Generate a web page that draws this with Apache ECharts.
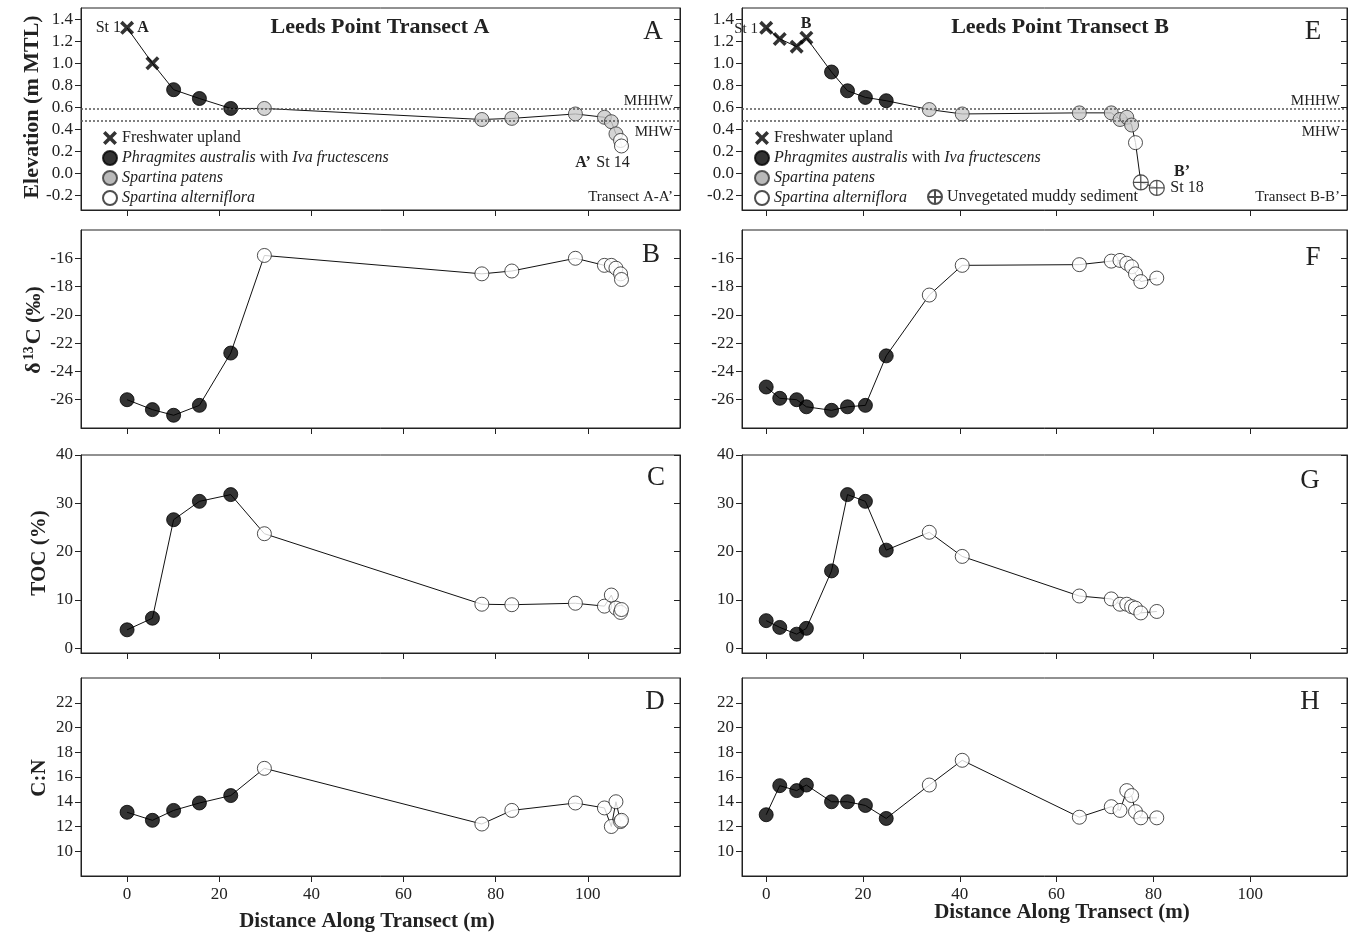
<!DOCTYPE html>
<html><head><meta charset="utf-8">
<script src="https://cdn.jsdelivr.net/npm/echarts@6/dist/echarts.min.js"></script>
<style>html,body{margin:0;padding:0;background:#fff}#c{width:1350px;height:935px}</style>
</head><body><div id="c"></div>
<script>
// ---------- DATA ----------
// Transect A (14 stations)
const distA  = [0, 5.5, 10.1, 15.7, 22.5, 29.8, 77.0, 83.5, 97.3, 103.6, 105.1, 106.1, 107.1, 107.3];
const elevA  = [1.32, 1.00, 0.76, 0.68, 0.59, 0.59, 0.49, 0.50, 0.54, 0.51, 0.47, 0.36, 0.30, 0.25];
const d13cA  = [-26.0, -26.7, -27.1, -26.4, -22.7, -15.8, -17.1, -16.9, -16.0, -16.5, -16.5, -16.7, -17.1, -17.5];
const tocA   = [3.8, 6.2, 26.6, 30.4, 31.8, 23.7, 9.1, 9.0, 9.3, 8.7, 11.0, 8.3, 7.4, 8.0];
const cnA    = [13.15, 12.5, 13.3, 13.9, 14.5, 16.7, 12.2, 13.3, 13.9, 13.5, 12.0, 14.0, 12.4, 12.5];
const vegA   = ['x','x','p','p','p','s','s','s','s','s','s','s','a','a'];
const zoneA  = ['k','k','k','k','k','w','w','w','w','w','w','w','w','w'];
// Transect B (18 stations)
const distB  = [0, 2.8, 6.3, 8.3, 13.5, 16.8, 20.5, 24.8, 33.7, 40.5, 64.7, 71.3, 73.1, 74.5, 75.5, 76.3, 77.4, 80.7];
const elevB  = [1.32, 1.22, 1.15, 1.23, 0.92, 0.75, 0.69, 0.66, 0.58, 0.54, 0.55, 0.55, 0.49, 0.51, 0.44, 0.28, -0.08, -0.13];
const d13cB  = [-25.1, -25.9, -26.0, -26.5, -26.75, -26.5, -26.4, -22.9, -18.6, -16.5, -16.45, -16.2, -16.15, -16.35, -16.6, -17.1, -17.65, -17.4];
const tocB   = [5.7, 4.3, 2.9, 4.1, 16.0, 31.8, 30.4, 20.3, 24.0, 19.0, 10.8, 10.2, 9.1, 9.1, 8.6, 8.3, 7.3, 7.6];
const cnB    = [12.95, 15.3, 14.9, 15.35, 14.0, 14.0, 13.7, 12.65, 15.35, 17.35, 12.75, 13.6, 13.3, 14.9, 14.5, 13.2, 12.7, 12.7];
const vegB   = ['x','x','x','x','p','p','p','p','s','s','s','s','s','s','s','a','m','m'];
const zoneB  = ['k','k','k','k','k','k','k','k','w','w','w','w','w','w','w','w','w','w'];
// Tidal datums (m MTL)
const mhhw = 0.59;
const mhw  = 0.48;
// Tick values
const distTicks = [0, 20, 40, 60, 80, 100];
const elevTicks = [-0.2, 0, 0.2, 0.4, 0.6, 0.8, 1.0, 1.2, 1.4];
const d13cTicks = [-26, -24, -22, -20, -18, -16];
const tocTicks  = [0, 10, 20, 30, 40];
const cnTicks   = [10, 12, 14, 16, 18, 20, 22];
// Names
const classNames = {
  x: 'Freshwater upland',
  p: 'Phragmites australis with Iva fructescens',
  s: 'Spartina patens',
  a: 'Spartina alterniflora',
  m: 'Unvegetated muddy sediment',
  k: 'Upland / Phragmites zone',
  w: 'Spartina zone'
};

// ---------- STYLE ----------
const SERIF = '"Liberation Serif", "DejaVu Serif", serif';
const XPATH = 'path://M3.6,0L10,6.4L16.4,0L20,3.6L13.6,10L20,16.4L16.4,20L10,13.6L3.6,20L0,16.4L6.4,10L0,3.6Z';
const MPATH = 'path://M10,0A10,10,0,1,1,10,20A10,10,0,1,1,10,0ZM10,0L10,20M0,10L20,10';
const SYM = {
  x: {symbol: XPATH, size: 14, item: {color: '#000'}},
  p: {symbol: 'circle', size: 14, item: {color: '#000', borderColor: '#000', borderWidth: 1}},
  s: {symbol: 'circle', size: 14, item: {color: '#c9c9c9', borderColor: '#333', borderWidth: 1}},
  a: {symbol: 'circle', size: 14, item: {color: '#fff', borderColor: '#222', borderWidth: 1}},
  m: {symbol: MPATH, size: 15, item: {color: '#fff', borderColor: '#222', borderWidth: 1.2}},
  k: {symbol: 'circle', size: 14, item: {color: '#000', borderColor: '#000', borderWidth: 1}},
  w: {symbol: 'circle', size: 14, item: {color: '#fff', borderColor: '#222', borderWidth: 1}}
};
const cols = [{left: 81, width: 599, xmin: -10}, {left: 742, width: 605, xmin: -5}];
const rows = [{top: 8, height: 202}, {top: 230, height: 198}, {top: 455, height: 198}, {top: 678, height: 198}];
const YAX = {
  elev: {min: -0.33, max: 1.5, ticks: elevTicks, fmt: v => Number(v).toFixed(1)},
  d13c: {min: -28, max: -14, ticks: d13cTicks, fmt: v => String(v)},
  toc:  {min: -1, max: 40, ticks: tocTicks, fmt: v => String(v)},
  cn:   {min: 8, max: 24, ticks: cnTicks, fmt: v => String(v)}
};
const panels = [
  {col: 0, row: 0, dist: distA, vals: elevA, cls: vegA, y: 'elev', datum: true},
  {col: 0, row: 1, dist: distA, vals: d13cA, cls: zoneA, y: 'd13c'},
  {col: 0, row: 2, dist: distA, vals: tocA,  cls: zoneA, y: 'toc'},
  {col: 0, row: 3, dist: distA, vals: cnA,   cls: zoneA, y: 'cn'},
  {col: 1, row: 0, dist: distB, vals: elevB, cls: vegB, y: 'elev', datum: true},
  {col: 1, row: 1, dist: distB, vals: d13cB, cls: zoneB, y: 'd13c'},
  {col: 1, row: 2, dist: distB, vals: tocB,  cls: zoneB, y: 'toc'},
  {col: 1, row: 3, dist: distB, vals: cnB,   cls: zoneB, y: 'cn'}
];

const grid = [], xAxis = [], yAxis = [], series = [];
const axLine = {show: true, onZero: false, lineStyle: {color: '#222', width: 1}};
panels.forEach((p, gi) => {
  const c = cols[p.col], r = rows[p.row], ya = YAX[p.y];
  grid.push({left: c.left, width: c.width, top: r.top, height: r.height, show: true,
    borderColor: '#222', borderWidth: 1, containLabel: false});
  xAxis.push({type: 'value', gridIndex: gi, min: c.xmin, max: 120,
    axisLine: axLine, splitLine: {show: false},
    axisTick: {show: true, inside: false, length: 6, customValues: distTicks, lineStyle: {color: '#222'}},
    axisLabel: {show: p.row === 3, customValues: distTicks, fontFamily: SERIF, fontSize: 17, color: '#222', margin: 10}
  });
  yAxis.push({type: 'value', gridIndex: gi, min: ya.min, max: ya.max, position: 'left',
    axisLine: axLine, splitLine: {show: false},
    axisTick: {show: true, inside: false, length: 6, customValues: ya.ticks, lineStyle: {color: '#222'}},
    axisLabel: {show: true, customValues: ya.ticks, formatter: ya.fmt, fontFamily: SERIF, fontSize: 17, color: '#222', margin: 8}
  });
  yAxis.push({type: 'value', gridIndex: gi, min: ya.min, max: ya.max, position: 'right',
    axisLine: axLine, splitLine: {show: false},
    axisTick: {show: true, inside: true, length: 6, customValues: ya.ticks, lineStyle: {color: '#222'}},
    axisLabel: {show: false}
  });
  const line = {type: 'line', xAxisIndex: gi, yAxisIndex: 2 * gi, symbol: 'none', silent: true, z: 2,
    lineStyle: {color: '#111', width: 1},
    data: p.dist.map((d, k) => [d, p.vals[k]])};
  if (p.datum) {
    line.markLine = {silent: true, symbol: ['none', 'none'],
      lineStyle: {type: [2, 2], color: '#555', width: 1.5},
      label: {fontFamily: SERIF, fontSize: 15, color: '#222'},
      data: [
        {yAxis: mhhw, label: {formatter: 'MHHW', position: 'insideEndTop', distance: [7, 0]}},
        {yAxis: mhw, label: {formatter: 'MHW', position: 'insideEndBottom', distance: [7, 4]}}
      ]};
  }
  series.push(line);
  const keys = [...new Set(p.cls)];
  keys.forEach(key => {
    const s = SYM[key];
    series.push({type: 'scatter', name: classNames[key], xAxisIndex: gi, yAxisIndex: 2 * gi, z: 3,
      symbol: s.symbol, symbolSize: s.size, itemStyle: s.item, silent: true,
      data: p.dist.map((d, k) => [d, p.vals[k], p.cls[k]]).filter(v => v[2] === key).map(v => [v[0], v[1]])});
  });
});

function legendFmt(name) {
  if (name === classNames.p) return '{i|Phragmites australis} with {i|Iva fructescens}';
  if (name === classNames.s || name === classNames.a) return '{i|' + name + '}';
  return name;
}
const legTxt = {fontFamily: SERIF, fontSize: 16, color: '#222', lineHeight: 16,
  rich: {i: {fontFamily: SERIF, fontSize: 16, fontStyle: 'italic', color: '#222'}}};
const legBase = {orient: 'vertical', itemGap: 4, itemWidth: 14, itemHeight: 14, selectedMode: false,
  textStyle: legTxt, formatter: legendFmt, padding: 0};
const legData = [
  {name: classNames.x, itemStyle: {color: '#000'}},
  {name: classNames.p},
  {name: classNames.s, itemStyle: {color: '#a8a8a8'}},
  {name: classNames.a}
];
const legend = [
  Object.assign({}, legBase, {left: 102, top: 130, data: legData}),
  Object.assign({}, legBase, {left: 754, top: 130, data: legData}),
  Object.assign({}, legBase, {left: 927, top: 189, data: [classNames.m]})
];

function T(x, y, text, font, align, extra) {
  return Object.assign({type: 'text', x: x, y: y, silent: true,
    style: {text: text, font: font, fill: '#222', align: align || 'center', verticalAlign: 'middle'}}, extra || {});
}
const F = s => s + 'px ' + SERIF;
const graphic = [
  T(380, 27, 'Leeds Point Transect A', 'bold ' + F(22)),
  T(1060, 27, 'Leeds Point Transect B', 'bold ' + F(22)),
  T(121, 28, 'St 1', F(16), 'right'),
  T(143, 28, 'A', 'bold ' + F(16), 'center'),
  T(583, 163, 'A\u2019', 'bold ' + F(16)),
  T(613, 163, 'St 14', F(16)),
  T(673, 197, 'Transect A-A\u2019', F(15), 'right'),
  T(758, 29, 'St 1', F(15), 'right'),
  T(806, 24, 'B', 'bold ' + F(16)),
  T(1182, 172, 'B\u2019', 'bold ' + F(16)),
  T(1187, 188, 'St 18', F(16)),
  T(1340, 197, 'Transect B-B\u2019', F(15), 'right'),
  T(653, 32, 'A', F(27)),
  T(651, 255, 'B', F(27)),
  T(656, 478, 'C', F(27)),
  T(655, 702, 'D', F(27)),
  T(1313, 32, 'E', F(27)),
  T(1313, 258, 'F', F(27)),
  T(1310, 481, 'G', F(27)),
  T(1310, 702, 'H', F(27)),
  T(32, 107, 'Elevation (m MTL)', 'bold ' + F(22), 'center', {rotation: Math.PI / 2}),
  {type: 'text', x: 34, y: 330, rotation: Math.PI / 2, silent: true,
    style: {text: '{b|\u03b4}{s|13}{b|C (\u2030)}', align: 'center', verticalAlign: 'middle', fill: '#222',
      rich: {b: {font: 'bold ' + F(22), fill: '#222', lineHeight: 24},
             s: {font: 'bold ' + F(14), fill: '#222', verticalAlign: 'top', padding: [0, 2, 0, 2]}}}},
  T(40, 553, 'TOC (%)', 'bold ' + F(21), 'center', {rotation: Math.PI / 2}),
  T(40, 778, 'C:N', 'bold ' + F(21), 'center', {rotation: Math.PI / 2}),
  T(367, 922, 'Distance Along Transect (m)', 'bold ' + F(21)),
  T(1062, 913, 'Distance Along Transect (m)', 'bold ' + F(21))
];

const chart = echarts.init(document.getElementById('c'), null, {renderer: 'canvas'});
chart.setOption({animation: false, backgroundColor: '#fff', grid, xAxis, yAxis, series, legend, graphic});
</script>
</body></html>
